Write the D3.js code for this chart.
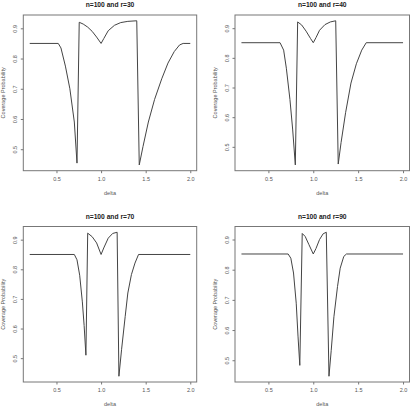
<!DOCTYPE html>
<html>
<head>
<meta charset="utf-8">
<script src="https://cdn.jsdelivr.net/npm/d3@7"></script>
<style>
body { margin: 0; background: #fff; }
text { font-family: "Liberation Sans", Arial, sans-serif; fill: #555; }
</style>
</head>
<body>
<div id="chart"></div>
<script>
// values
var rValues = [30, 40, 70, 90]
var xTicks = [0.5, 1.0, 1.5, 2.0]
var yTicks = [0.5, 0.6, 0.7, 0.8, 0.9]

var delta30 = [0.2, 0.52, 0.55, 0.60, 0.65, 0.70, 0.73, 0.755, 0.80, 0.85, 0.90, 0.95, 1.0, 1.03, 1.08, 1.15, 1.22, 1.30, 1.40, 1.428, 1.47, 1.53, 1.60, 1.68, 1.75, 1.82, 1.88, 1.92, 2.0]
var cov30 = [0.85, 0.85, 0.835, 0.775, 0.70, 0.59, 0.454, 0.920, 0.914, 0.904, 0.890, 0.871, 0.850, 0.866, 0.892, 0.910, 0.919, 0.923, 0.925, 0.448, 0.509, 0.590, 0.665, 0.733, 0.785, 0.823, 0.845, 0.85, 0.85]

var delta40 = [0.2, 0.63, 0.67, 0.70, 0.74, 0.77, 0.80, 0.826, 0.87, 0.92, 0.97, 1.0, 1.03, 1.07, 1.13, 1.19, 1.25, 1.278, 1.31, 1.36, 1.42, 1.48, 1.54, 1.59, 2.0]
var cov40 = [0.851, 0.851, 0.826, 0.765, 0.66, 0.56, 0.439, 0.921, 0.911, 0.890, 0.865, 0.851, 0.868, 0.893, 0.912, 0.921, 0.925, 0.442, 0.515, 0.615, 0.715, 0.780, 0.826, 0.851, 0.851]

var delta70 = [0.2, 0.70, 0.73, 0.76, 0.79, 0.81, 0.83, 0.85, 0.90, 0.95, 1.0, 1.03, 1.08, 1.13, 1.18, 1.20, 1.23, 1.27, 1.30, 1.34, 1.38, 1.42, 2.0]
var cov70 = [0.85, 0.85, 0.832, 0.78, 0.69, 0.61, 0.51, 0.922, 0.910, 0.889, 0.85, 0.872, 0.905, 0.921, 0.925, 0.439, 0.53, 0.64, 0.72, 0.782, 0.821, 0.85, 0.85]

var delta90 = [0.2, 0.72, 0.75, 0.78, 0.81, 0.83, 0.85, 0.877, 0.91, 0.95, 1.0, 1.03, 1.07, 1.11, 1.145, 1.175, 1.20, 1.23, 1.27, 1.30, 1.34, 1.37, 2.0]
var cov90 = [0.852, 0.852, 0.838, 0.789, 0.689, 0.58, 0.483, 0.920, 0.910, 0.884, 0.852, 0.870, 0.900, 0.919, 0.924, 0.447, 0.533, 0.644, 0.744, 0.805, 0.844, 0.852, 0.852]

var panels = [
	{r: rValues[0], x: delta30, y: cov30, box: [23.3, 196.7, 15, 170.7]},
	{r: rValues[1], x: delta40, y: cov40, box: [235, 409.5, 15, 170.7]},
	{r: rValues[2], x: delta70, y: cov70, box: [23.3, 196.7, 226.5, 382]},
	{r: rValues[3], x: delta90, y: cov90, box: [235, 409.5, 226.5, 382]}
]

var svg = d3.select('#chart').append('svg')
	.attr('width', 416)
	.attr('height', 412)
svg.append('rect').attr('width', 416).attr('height', 412).attr('fill', '#fff')

// R style range: data extent padded by 4%
function padded(ext){
	var p = (ext[1] - ext[0]) * 0.04
	return [ext[0] - p, ext[1] + p]
}

panels.forEach(function(p){
	var L = p.box[0], R = p.box[1], T = p.box[2], B = p.box[3]
	var x = d3.scaleLinear().domain(padded(d3.extent(p.x))).range([L, R])
	var y = d3.scaleLinear().domain(padded(d3.extent(p.y))).range([B, T])
	var g = svg.append('g')

	var line = d3.line()
		.x(function(d){ return x(d[0]) })
		.y(function(d){ return y(d[1]) })
	g.append('path')
		.datum(d3.zip(p.x, p.y))
		.attr('d', line)
		.attr('fill', 'none')
		.attr('stroke', '#444')
		.attr('stroke-width', 1)
		.attr('stroke-linejoin', 'round')

	g.append('rect')
		.attr('x', L).attr('y', T)
		.attr('width', R - L).attr('height', B - T)
		.attr('fill', 'none')
		.attr('stroke', '#777')
		.attr('stroke-width', 1)

	var xa = g.append('g').attr('transform', 'translate(0,' + B + ')')
		.call(d3.axisBottom(x).tickValues(xTicks).tickSize(2.5).tickFormat(d3.format('.1f')))
	xa.select('.domain').remove()
	xa.selectAll('line').attr('stroke', '#777')
	xa.selectAll('text').attr('y', 6).attr('font-size', '5.5px').attr('fill', '#555')
		.attr('font-family', '"Liberation Sans", Arial, sans-serif')

	var ya = g.append('g').attr('transform', 'translate(' + L + ',0)')
		.call(d3.axisLeft(y).tickValues(yTicks).tickSize(2.5).tickFormat(d3.format('.1f')))
	ya.select('.domain').remove()
	ya.selectAll('line').attr('stroke', '#777')
	ya.selectAll('text')
		.attr('x', null).attr('dy', null)
		.attr('font-size', '5.5px').attr('fill', '#555')
		.attr('font-family', '"Liberation Sans", Arial, sans-serif')
		.attr('text-anchor', 'middle')
		.attr('transform', 'translate(-6.3,0) rotate(-90)')

	g.append('text')
		.attr('x', (L + R) / 2).attr('y', T - 8)
		.attr('text-anchor', 'middle')
		.attr('font-size', '6.7px')
		.attr('font-weight', 'bold')
		.style('fill', '#222')
		.text('n=100 and r=' + p.r)

	g.append('text')
		.attr('x', (L + R) / 2).attr('y', B + 24)
		.attr('text-anchor', 'middle')
		.attr('font-size', '5.5px')
		.text('delta')

	g.append('text')
		.attr('transform', 'translate(' + (L - 18.5) + ',' + ((T + B) / 2) + ') rotate(-90)')
		.attr('text-anchor', 'middle')
		.attr('font-size', '5.5px')
		.text('Coverage Probability')
})
</script>
</body>
</html>
